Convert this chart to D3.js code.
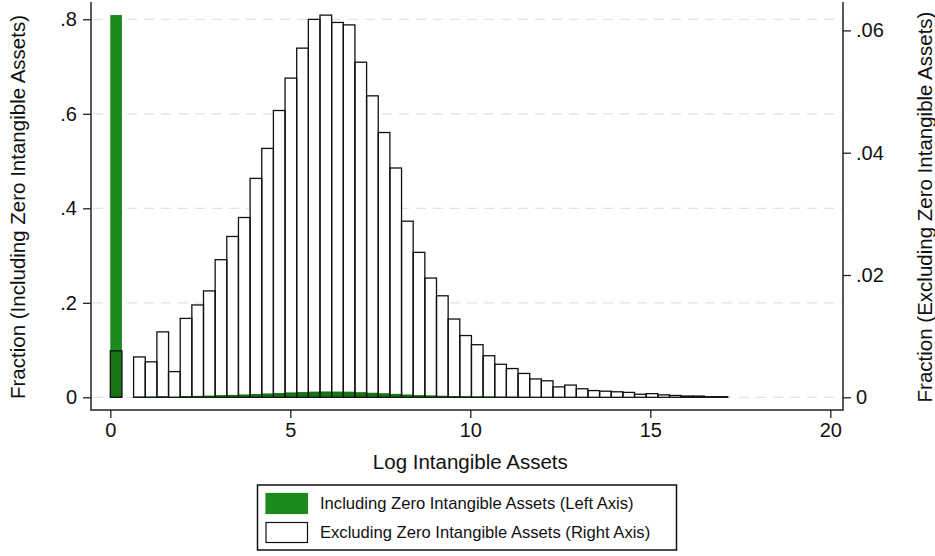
<!DOCTYPE html>
<html>
<head>
<meta charset="utf-8">
<script src="https://cdn.jsdelivr.net/npm/d3@7"></script>
<style>
  body { margin: 0; background: #fff; }
  text { font-family: 'Liberation Sans', Arial, Helvetica, sans-serif; fill: #111; }
</style>
</head>
<body>
<svg id="chart" width="935" height="556"></svg>
<script>
// histogram bins start at 0, fixed width
var binStart = 0
var binWidth = 0.3236

// fraction per bin, excluding zero intangible assets (right axis)
var excludingZero = [
  0.0076, 0, 0.0066, 0.0058, 0.0107, 0.0042, 0.0129, 0.0151, 0.0174, 0.0225,
  0.0263, 0.0294, 0.0358, 0.0407, 0.0469, 0.0522, 0.0571, 0.0618, 0.0625, 0.0613,
  0.0609, 0.0548, 0.0493, 0.0433, 0.0375, 0.0288, 0.0237, 0.0195, 0.0166, 0.0128,
  0.0101, 0.0086, 0.0068, 0.0054, 0.0047, 0.0039, 0.0030, 0.0027, 0.0017, 0.0020,
  0.0014, 0.0011, 0.0010, 0.0009, 0.0008, 0.0005, 0.0006, 0.0004, 0.0003, 0.0002,
  0.0002, 0.0001, 0.0001
]

// fraction per bin, including zero intangible assets (left axis)
var includingZero = [
  0.809, 0, 0.0013, 0.0011, 0.0020, 0.0008, 0.0025, 0.0029, 0.0033, 0.0043,
  0.0050, 0.0056, 0.0068, 0.0077, 0.0089, 0.0099, 0.0108, 0.0117, 0.0119, 0.0117,
  0.0116, 0.0104, 0.0094, 0.0082, 0.0071, 0.0055, 0.0045, 0.0037, 0.0031, 0.0024,
  0.0019, 0.0016, 0.0013, 0.0010, 0.0009, 0.0007, 0.0006, 0.0005, 0.0003, 0.0004,
  0.0003, 0.0002, 0.0002, 0.0002, 0.0001, 0.0001, 0.0001, 0.0001, 0, 0,
  0, 0, 0
]

var xTicks = [0, 5, 10, 15, 20]
var leftTicks = [0, 0.2, 0.4, 0.6, 0.8]
var leftLabels = ['0', '.2', '.4', '.6', '.8']
var rightTicks = [0, 0.02, 0.04, 0.06]
var rightLabels = ['0', '.02', '.04', '.06']

var legendLabels = ['Including Zero Intangible Assets (Left Axis)', 'Excluding Zero Intangible Assets (Right Axis)']

var green = '#1b8b1b'
var darkGreen = '#177417'

// plot frame
var frame = { left: 91, right: 843, top: 2, bottom: 410 }

var svg = d3.select('#chart')

var x = d3.scaleLinear().domain([0, 20]).range([110.3, 830.3])
var yL = d3.scaleLinear().domain([0, 0.8]).range([397.3, 19.3])
var yR = d3.scaleLinear().domain([0, 0.06]).range([397.3, 30.4])

function binsOf (arr) {
  return arr.map(function (v, i) {
    return { x0: binStart + i * binWidth, x1: binStart + (i + 1) * binWidth, v: v }
  }).filter(function (d) { return d.v > 0 })
}
var whiteBins = binsOf(excludingZero)
var greenBins = binsOf(includingZero)

function barX (d) { return x(d.x0) }
function barW (d) { return x(d.x1) - x(d.x0) }

// gridlines
svg.append('g').selectAll('line')
  .data(leftTicks)
  .enter().append('line')
  .attr('x1', frame.left + 2).attr('x2', frame.right - 1)
  .attr('y1', function (d) { return yL(d) }).attr('y2', function (d) { return yL(d) })
  .attr('stroke', '#e2e2e2').attr('stroke-width', 1.3)
  .attr('stroke-dasharray', '10,7')

// white bars (fill)
svg.append('g').selectAll('rect')
  .data(whiteBins)
  .enter().append('rect')
  .attr('x', barX).attr('width', barW)
  .attr('y', function (d) { return yR(d.v) })
  .attr('height', function (d) { return yR(0) - yR(d.v) })
  .attr('fill', '#fff')

// green bars
svg.append('g').selectAll('rect')
  .data(greenBins)
  .enter().append('rect')
  .attr('x', barX).attr('width', barW)
  .attr('y', function (d) { return yL(d.v) })
  .attr('height', function (d) { return yL(0) - yL(d.v) })
  .attr('fill', green)

// where green sits inside a white bar it shows darker
var clip = svg.append('clipPath').attr('id', 'whiteClip')
clip.selectAll('rect')
  .data(whiteBins)
  .enter().append('rect')
  .attr('x', barX).attr('width', barW)
  .attr('y', function (d) { return yR(d.v) })
  .attr('height', function (d) { return yR(0) - yR(d.v) })

svg.append('g').attr('clip-path', 'url(#whiteClip)').selectAll('rect')
  .data(greenBins)
  .enter().append('rect')
  .attr('x', barX).attr('width', barW)
  .attr('y', function (d) { return yL(d.v) })
  .attr('height', function (d) { return yL(0) - yL(d.v) })
  .attr('fill', darkGreen)

// white bar outlines
svg.append('g').selectAll('rect')
  .data(whiteBins)
  .enter().append('rect')
  .attr('x', barX).attr('width', barW)
  .attr('y', function (d) { return yR(d.v) })
  .attr('height', function (d) { return yR(0) - yR(d.v) })
  .attr('fill', 'none')
  .attr('stroke', '#111').attr('stroke-width', 1.3)

// axes
var leftAxis = svg.append('g')
  .attr('transform', 'translate(' + frame.left + ',0)')
  .call(d3.axisLeft(yL).tickValues(leftTicks)
    .tickFormat(function (d, i) { return leftLabels[i] })
    .tickSize(8).tickSizeOuter(0).tickPadding(6))

var rightAxis = svg.append('g')
  .attr('transform', 'translate(' + frame.right + ',0)')
  .call(d3.axisRight(yR).tickValues(rightTicks)
    .tickFormat(function (d, i) { return rightLabels[i] })
    .tickSize(8).tickSizeOuter(0).tickPadding(5))

var bottomAxis = svg.append('g')
  .attr('transform', 'translate(0,' + frame.bottom + ')')
  .call(d3.axisBottom(x).tickValues(xTicks)
    .tickFormat(d3.format('d'))
    .tickSize(8).tickSizeOuter(0).tickPadding(5))

;[leftAxis, rightAxis, bottomAxis].forEach(function (g) {
  g.select('.domain').remove()
  g.selectAll('.tick line').attr('stroke', '#222').attr('stroke-width', 1.3)
  g.selectAll('.tick text').style('font-size', '20px').attr('fill', '#111')
})

// frame lines
svg.append('path')
  .attr('d', 'M' + frame.left + ',' + frame.top + 'V' + frame.bottom + 'H' + frame.right + 'V' + frame.top)
  .attr('fill', 'none').attr('stroke', '#222').attr('stroke-width', 1.5)

// axis titles
svg.append('text')
  .attr('transform', 'translate(25,207) rotate(-90)')
  .attr('text-anchor', 'middle')
  .style('font-size', '20.5px')
  .text('Fraction (Including Zero Intangible Assets)')

svg.append('text')
  .attr('transform', 'translate(932,207) rotate(-90)')
  .attr('text-anchor', 'middle')
  .style('font-size', '20.5px')
  .text('Fraction (Excluding Zero Intangible Assets)')

svg.append('text')
  .attr('x', x(10)).attr('y', 469)
  .attr('text-anchor', 'middle')
  .style('font-size', '20.5px')
  .text('Log Intangible Assets')

// legend
var legend = svg.append('g')
legend.append('rect')
  .attr('x', 257.5).attr('y', 485).attr('width', 419).attr('height', 65)
  .attr('fill', '#fff').attr('stroke', '#111').attr('stroke-width', 1.5)

var swatchFill = [green, '#fff']
legendLabels.forEach(function (label, i) {
  legend.append('rect')
    .attr('x', 266).attr('y', 493.5 + i * 29).attr('width', 41.5).attr('height', 20)
    .attr('fill', swatchFill[i])
    .attr('stroke', i === 0 ? green : '#111').attr('stroke-width', 1.2)
  legend.append('text')
    .attr('x', 320).attr('y', 509 + i * 29)
    .style('font-size', '16.6px')
    .text(label)
})
</script>
</body>
</html>
